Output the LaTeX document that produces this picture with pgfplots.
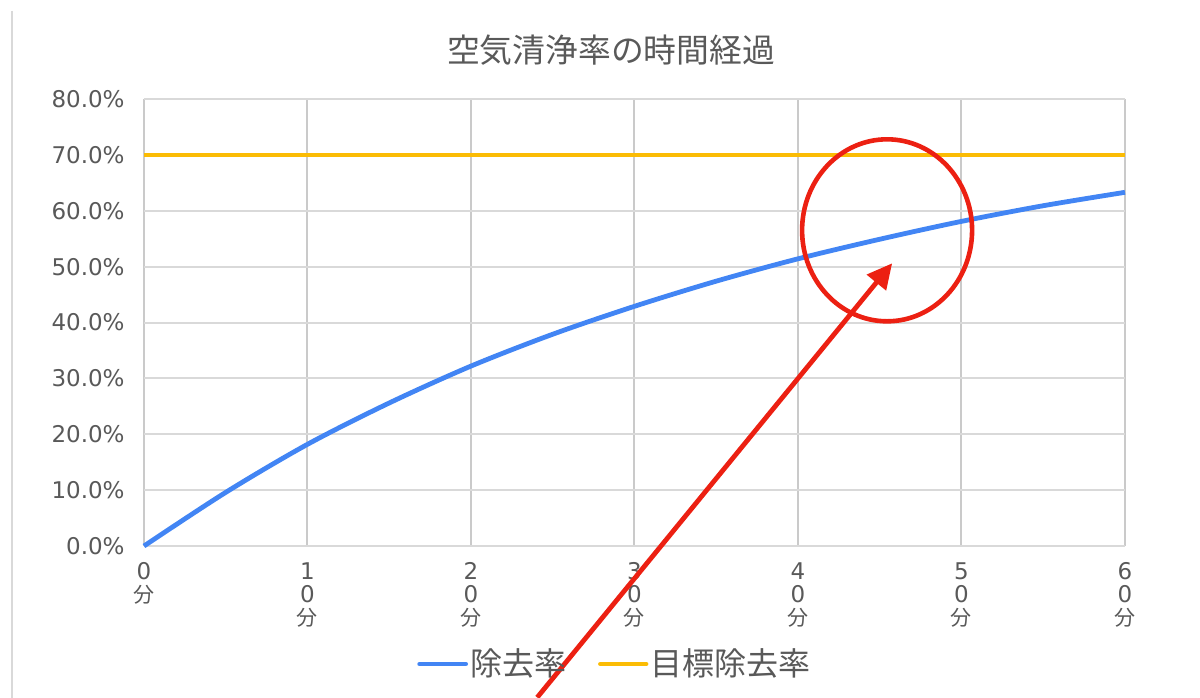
\documentclass[border=0pt]{standalone}
\usepackage{fontspec}
\setmainfont{DejaVu Sans}
\newfontfamily\jp{Noto Sans CJK JP}
\usepackage{pgfplots}
\pgfplotsset{compat=1.18}
\usetikzlibrary{arrows.meta}

\definecolor{textgray}{HTML}{595959}
\definecolor{hgrid}{HTML}{D9D9D9}
\definecolor{vgrid}{HTML}{CACACA}
\definecolor{removal}{HTML}{4285F4}
\definecolor{target}{HTML}{FBBC04}
\definecolor{markred}{RGB}{236,32,18}

\begin{document}
\begin{tikzpicture}
\clip (-72pt,-75.5pt) rectangle (528pt,273pt);
% chart area border
\draw[hgrid, line width=0.8pt] (-66pt,267.5pt) -- (-66pt,-80pt);
\begin{axis}[
  at={(0pt,0pt)}, anchor=south west,
  scale only axis,
  width=490.5pt, height=223.5pt,
  xmin=0, xmax=60, ymin=0, ymax=80,
  xtick={0,10,...,60},
  ytick={0,10,...,80},
  axis line style={draw=none},
  major tick length=0pt,
  xmajorgrids, ymajorgrids,
  x grid style={vgrid, line width=1pt},
  y grid style={hgrid, line width=1pt},
  /pgf/number format/assume math mode=true,
  tick label style={text=textgray, font=\fontsize{11.5}{11.6}\selectfont},
  yticklabel={\pgfmathprintnumber[fixed, fixed zerofill, precision=1]{\tick}\%},
  yticklabel style={anchor=east, inner sep=0pt, xshift=-9.5pt},
  xticklabels={{0\\{\jp\fontsize{10.5}{11}\selectfont 分}},
               {1\\0\\{\jp\fontsize{10.5}{11}\selectfont 分}},
               {2\\0\\{\jp\fontsize{10.5}{11}\selectfont 分}},
               {3\\0\\{\jp\fontsize{10.5}{11}\selectfont 分}},
               {4\\0\\{\jp\fontsize{10.5}{11}\selectfont 分}},
               {5\\0\\{\jp\fontsize{10.5}{11}\selectfont 分}},
               {6\\0\\{\jp\fontsize{10.5}{11}\selectfont 分}}},
  xticklabel style={anchor=north, inner sep=0pt, yshift=-8pt, align=center},
  clip=false,
  legend columns=2,
  legend style={at={(0.48,-0.264)}, anchor=center, draw=none, fill=none,
    font=\jp\fontsize{16}{18}\selectfont, text=textgray,
    nodes={inner sep=1pt},
    /tikz/every even column/.append style={column sep=15pt}},
  legend image code/.code={\draw[#1, line cap=round] (0pt,0pt) -- (23pt,0pt);},
]
% removal rate over time (%)
\addplot[removal, line width=2.4pt, smooth, tension=0.5] coordinates {
  (0,0) (5,9.6) (10,18.2) (15,25.6) (20,32.2) (25,37.9) (30,42.9)
  (35,47.4) (40,51.4) (45,54.9) (50,58.1) (55,60.9) (60,63.3)
};
\addlegendentry{除去率}
% target removal rate
\addplot[target, line width=2.2pt] coordinates {(0,70) (60,70)};
\addlegendentry{目標除去率}

% highlight where the curve approaches the target
\draw[markred, line width=2.3pt] (axis cs:45.45,56.5) ellipse [x radius=42.5pt, y radius=45.5pt];
\draw[markred, line width=2.4pt, -{Triangle[length=12.5pt, width=12pt]}]
  (axis cs:24.05,-27.1) -- (axis cs:45.76,50.6);
\end{axis}
\node[text=textgray, font=\jp\fontsize{16.4}{20}\selectfont] at (233.5pt,248pt) {空気清浄率の時間経過};
\end{tikzpicture}
\end{document}
